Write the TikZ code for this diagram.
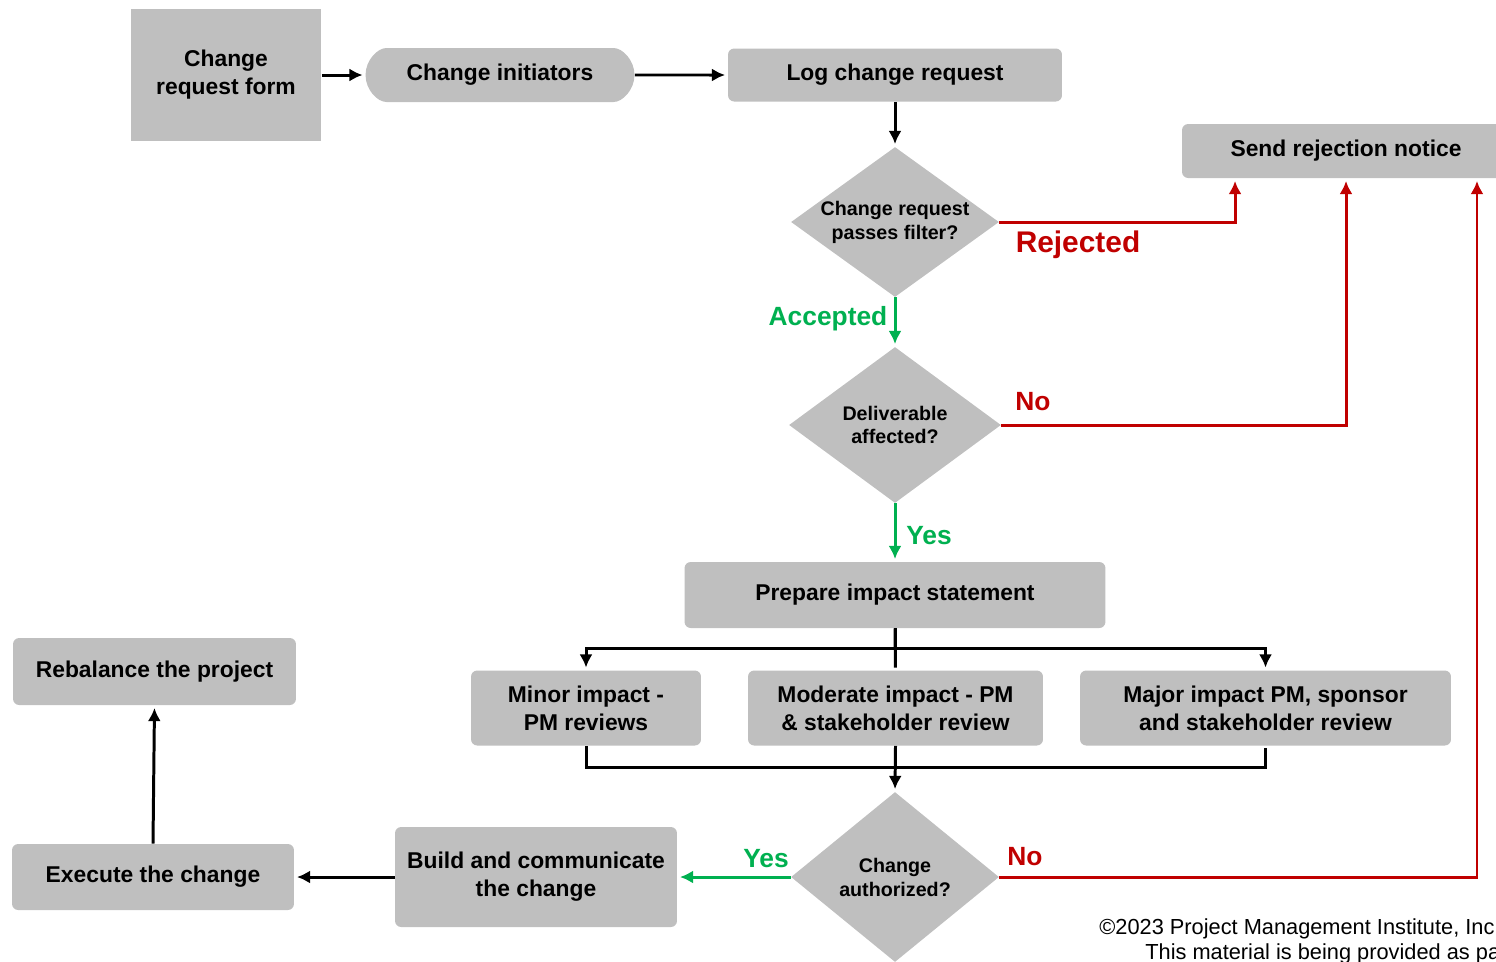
\documentclass[tikz,border=0pt]{standalone}
\usepackage{fontspec}
\setmainfont{Liberation Sans}
\usetikzlibrary{shapes.geometric,shapes.misc,arrows.meta}
\definecolor{boxgray}{HTML}{BFBFBF}
\definecolor{rejred}{HTML}{C00000}
\definecolor{accgreen}{HTML}{00B050}
\tikzset{
  gbox/.style={fill=boxgray, rounded corners=3.5pt, inner sep=0pt, align=center,
    font=\bfseries\fontsize{13}{16}\selectfont},
  dia/.style={diamond, fill=boxgray, inner sep=-10pt, align=center,
    font=\bfseries\fontsize{11.2}{13.6}\selectfont},
  flow/.style={line width=1.7pt, shorten >=1.5pt},
  redlbl/.style={text=rejred, font=\bfseries\fontsize{15}{18}\selectfont},
  grnlbl/.style={text=accgreen, font=\bfseries\fontsize{15}{18}\selectfont}
}
\begin{document}
\begin{tikzpicture}[>={Latex[length=7.5pt,width=7.5pt]}, x=0.02cm, y=-0.02cm]
\useasboundingbox (0,0) rectangle (1496,961);
% boxes of the top row
\node[gbox, rounded corners=0pt, minimum width=3.82cm, minimum height=2.64cm] (form) at (226,75) {Change\\request form};
\node[gbox, rounded rectangle, minimum width=5.38cm, minimum height=1.08cm] (init) at (500,75) {Change initiators};
\node[gbox, minimum width=6.68cm, minimum height=1.06cm] (log) at (895,75) {Log change request};
\node[gbox, minimum width=6.56cm, minimum height=1.08cm] (reject) at (1346,151) {Send rejection notice};
% decisions
\node[dia, minimum width=4.16cm, minimum height=3cm] (filter) at (895,222) {Change request\\passes filter?};
\node[dia, minimum width=4.24cm, minimum height=3.12cm] (deliv) at (895,425) {Deliverable\\affected?};
\node[gbox, minimum width=8.42cm, minimum height=1.32cm] (prep) at (895,595) {Prepare impact statement};
% the three reviews
\node[gbox, minimum width=4.6cm, minimum height=1.5cm] (minor) at (586,708) {Minor impact -\\PM reviews};
\node[gbox, minimum width=5.9cm, minimum height=1.5cm] (moderate) at (895.5,708) {Moderate impact - PM\\\& stakeholder review};
\node[gbox, minimum width=7.42cm, minimum height=1.5cm] (major) at (1265.5,708) {Major impact PM, sponsor\\and stakeholder review};
\node[dia, minimum width=4.16cm, minimum height=3.4cm] (auth) at (895,877) {Change\\authorized?};
\node[gbox, minimum width=5.64cm, minimum height=2cm] (build) at (536,877) {Build and communicate\\the change};
\node[gbox, minimum width=5.64cm, minimum height=1.32cm] (exec) at (153,877) {Execute the change};
\node[gbox, minimum width=5.66cm, minimum height=1.34cm] (rebal) at (154.5,671.5) {Rebalance the project};
% connectors in black
\draw[flow, ->] (form) -- (init);
\draw[flow, ->] (init) -- (log);
\draw[flow, ->] (log) -- (filter);
\draw[flow] (prep.south) -- (moderate.north);
\draw[flow, ->] (prep.south) -- ++(0,20) -| (minor.north);
\draw[flow, ->] (prep.south) -- ++(0,20) -| (major.north);
\draw[flow] (minor.south) -- ++(0,22) -| (major.south);
\draw[flow, ->] (moderate.south) -- (auth.north);
\draw[flow, ->] (build.west) -- (exec.east);
\draw[flow, ->] (exec.north) -- (rebal.south);
% rejected / no paths
\draw[flow, ->, rejred] (filter.east) -| ([xshift=-2.22cm]reject.south);
\draw[flow, ->, rejred] (deliv.east) -| (reject.south);
\draw[flow, ->, rejred] (auth.east) -| ([xshift=2.62cm]reject.south);
\node[redlbl, font=\bfseries\fontsize{17}{20}\selectfont] (lrej) at (1078,245) {Rejected};
\node[redlbl] (lno1) at (1033,402) {No};
\node[redlbl] (lno2) at (1025,857) {No};
% accepted / yes paths
\draw[flow, ->, accgreen] (filter.south) -- (deliv.north);
\draw[flow, ->, accgreen] (deliv.south) -- (prep.north);
\draw[flow, ->, accgreen] (auth.west) -- (build.east);
\node[grnlbl] (lacc) at (828,319) {Accepted};
\node[grnlbl] (lyes1) at (929,536) {Yes};
\node[grnlbl] (lyes2) at (766,859) {Yes};
% footer
\node[anchor=west, inner sep=0pt, font=\fontsize{12.4}{14}\selectfont] (copy1) at (1099,929) {©2023 Project Management Institute, Inc};
\node[anchor=west, inner sep=0pt, font=\fontsize{12.4}{14}\selectfont] (copy2) at (1145,954) {This material is being provided as pa};
\end{tikzpicture}
\end{document}
